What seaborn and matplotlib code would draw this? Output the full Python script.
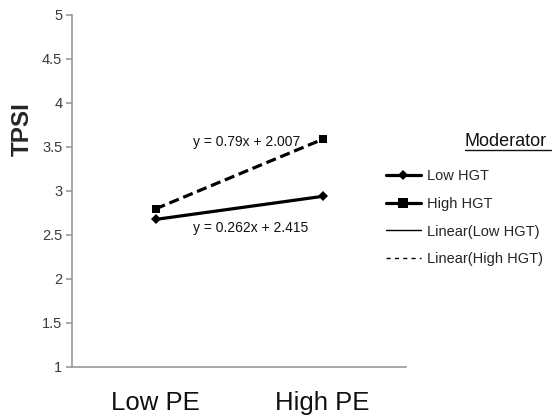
import pandas as pd
import matplotlib
matplotlib.use('Agg')
import matplotlib.pyplot as plt
from matplotlib.lines import Line2D
import seaborn as sns

# values
pe_levels = ['Low PE', 'High PE']
low_hgt = [2.677, 2.939]
high_hgt = [2.797, 3.587]
eq_high = 'y = 0.79x + 2.007'
eq_low = 'y = 0.262x + 2.415'
y_ticks = [1, 1.5, 2, 2.5, 3, 3.5, 4, 4.5, 5]
y_tick_labels = ['1', '1.5', '2', '2.5', '3', '3.5', '4', '4.5', '5']

df = pd.DataFrame({
    'pos': [0, 1, 0, 1],
    'TPSI': low_hgt + high_hgt,
    'Moderator': ['Low HGT', 'Low HGT', 'High HGT', 'High HGT'],
})

sns.set_style('white')
plt.rcParams['font.family'] = ['Liberation Sans', 'DejaVu Sans']

fig = plt.figure(figsize=(5.52, 4.16), dpi=100)
ax = fig.add_axes([72/552, 1-367/416, 334/552, 352/416])

sns.lineplot(data=df, x='pos', y='TPSI', hue='Moderator', style='Moderator',
             palette={'Low HGT': 'black', 'High HGT': 'black'},
             dashes={'Low HGT': '', 'High HGT': (3.2, 1.5)},
             markers={'Low HGT': 'D', 'High HGT': 's'},
             markersize=5.5, linewidth=2.3, markeredgewidth=0,
             legend=False, ax=ax)

ax.set_xlim(-0.5, 1.5)
ax.set_ylim(1, 5)
ax.set_yticks(y_ticks)
ax.set_yticklabels(y_tick_labels, fontsize=10.5, color='#3a3a3a')
ax.set_xticks([-0.5, 0.5, 1.5])
ax.set_xticklabels([])
ax.set_xticks([0, 1], minor=True)
ax.set_xticklabels(pe_levels, minor=True, fontsize=18.5, color='#111111')
ax.tick_params(axis='x', which='major', length=8, width=1.2, color='#999999', direction='out')
ax.tick_params(axis='x', which='minor', length=0, pad=17)
ax.tick_params(axis='y', length=4, width=1.2, color='#999999', direction='out', left=True, pad=3)
for s in ['top', 'right']:
    ax.spines[s].set_visible(False)
for s in ['left', 'bottom']:
    ax.spines[s].set_color('#999999')
    ax.spines[s].set_linewidth(1.2)
ax.set_xlabel('')
ax.set_ylabel('TPSI', fontsize=17.5, fontweight='bold')
ax.yaxis.set_label_coords(-0.115, 0.675)

ax.text(0.225, 3.557, eq_high, fontsize=10, va='center', ha='left', color='#111111')
ax.text(0.225, 2.58, eq_low, fontsize=10, va='center', ha='left', color='#111111')

handles = [
    Line2D([], [], color='black', lw=2.3, marker='D', markersize=5, markeredgewidth=0),
    Line2D([], [], color='black', lw=2.3, marker='s', markersize=7, markeredgewidth=0),
    Line2D([], [], color='black', lw=1.0),
    Line2D([], [], color='black', lw=1.0, dashes=(3, 3)),
]
labels = ['Low HGT', 'High HGT', 'Linear(Low HGT)', 'Linear(High HGT)']
fig.legend(handles, labels, loc='upper left', bbox_to_anchor=(380/552, 1-163/416),
           frameon=False, fontsize=10.5, handlelength=2.4, handletextpad=0.4,
           labelspacing=0.95, borderaxespad=0)

fig.text(465/552, 1-142/416, 'Moderator', fontsize=13, va='center', ha='left', color='#111111')
fig.add_artist(Line2D([465/552, 551/552], [1-150/416, 1-150/416], color='#111111', lw=1.0))

fig.savefig('out.png', dpi=100)
